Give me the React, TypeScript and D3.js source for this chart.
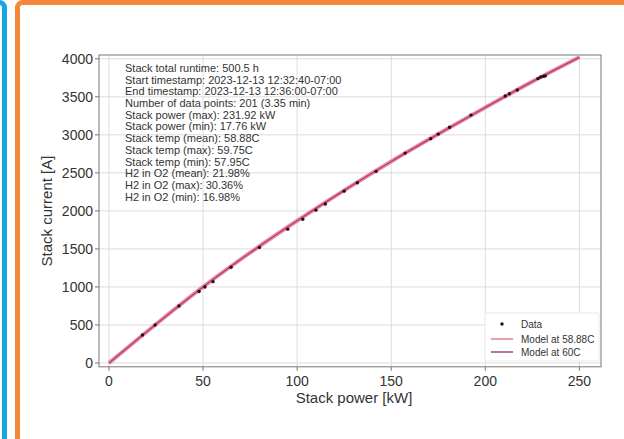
import React from "react";
import * as d3 from "d3";

const modelPower = [0, 25, 50, 75, 100, 125, 150, 175, 200, 225, 250];
const model5888 = [0, 510, 1000, 1450, 1870, 2270, 2650, 3010, 3360, 3700, 4020];
const model60 = [0, 510, 1000, 1450, 1870, 2270, 2650, 3010, 3360, 3700, 4020];

const dataPower = [17.8, 24.5, 37.2, 47.9, 51, 55.3, 64.9, 80, 95, 103, 110, 115, 125, 132, 142, 157.4, 171, 175, 181, 192.4, 210.6, 212.8, 217, 228, 229.5, 231, 231.9];
const dataCurrent = [368, 500, 750, 940, 1000, 1070, 1260, 1520, 1760, 1890, 2010, 2090, 2260, 2370, 2520, 2760, 2950, 3010, 3100, 3260, 3510, 3540, 3590, 3740, 3760, 3770, 3775];

const xTicks = [0, 50, 100, 150, 200, 250];
const yTicks = [0, 500, 1000, 1500, 2000, 2500, 3000, 3500, 4000];

const infoLines = [
  "Stack total runtime: 500.5 h",
  "Start timestamp: 2023-12-13 12:32:40-07:00",
  "End timestamp: 2023-12-13 12:36:00-07:00",
  "Number of data points: 201 (3.35 min)",
  "Stack power (max): 231.92 kW",
  "Stack power (min): 17.76 kW",
  "Stack temp (mean): 58.88C",
  "Stack temp (max): 59.75C",
  "Stack temp (min): 57.95C",
  "H2 in O2 (mean): 21.98%",
  "H2 in O2 (max): 30.36%",
  "H2 in O2 (min): 16.98%",
];

const FONT = "'Liberation Sans', Arial, Helvetica, sans-serif";

export default function App() {
  const left = 99, right = 601, top = 55, bottom = 366.8;
  const x = d3.scaleLinear().domain([-5.3, 261.5]).range([left, right]);
  const y = d3.scaleLinear().domain([-50, 4050]).range([bottom, top]);

  const line = d3
    .line<number>()
    .x((_, i) => x(modelPower[i]))
    .y((d) => y(d))
    .curve(d3.curveMonotoneX);

  const textColor = "#333";

  return (
    <svg
      width={624}
      height={439}
      style={{ position: "absolute", left: 0, top: 0, display: "block", background: "#fff" }}
      fontFamily={FONT}
    >
      {/* frames */}
      <rect x={-20} y={2.5} width={24.5} height={460} rx={5} fill="none" stroke="#16a4e4" strokeWidth={5} />
      <rect x={17.5} y={2.5} width={620} height={460} rx={5} fill="none" stroke="#f5873a" strokeWidth={5} />

      {/* grid */}
      {xTicks.map((t) => (
        <line key={"gx" + t} x1={x(t)} x2={x(t)} y1={top} y2={bottom} stroke="#dcdcdc" strokeWidth={1} />
      ))}
      {yTicks.map((t) => (
        <line key={"gy" + t} x1={left} x2={right} y1={y(t)} y2={y(t)} stroke="#dcdcdc" strokeWidth={1} />
      ))}

      {/* model lines */}
      <path d={line(model5888) || ""} fill="none" stroke="#e07d97" strokeWidth={4} strokeOpacity={0.85} />
      <path d={line(model60) || ""} fill="none" stroke="#b8325e" strokeWidth={1.3} strokeOpacity={0.9} />

      {/* data */}
      {dataPower.map((p, i) => (
        <circle key={"d" + i} cx={x(p)} cy={y(dataCurrent[i])} r={1.7} fill="#2a0a14" />
      ))}

      {/* axes frame */}
      <rect x={left} y={top} width={right - left} height={bottom - top} fill="none" stroke="#777" strokeWidth={1} />

      {/* ticks */}
      {xTicks.map((t) => (
        <g key={"tx" + t}>
          <line x1={x(t)} x2={x(t)} y1={bottom} y2={bottom + 4} stroke="#777" />
          <text x={x(t)} y={bottom + 19} fontSize={14} textAnchor="middle" fill={textColor}>
            {t}
          </text>
        </g>
      ))}
      {yTicks.map((t) => (
        <g key={"ty" + t}>
          <line x1={left - 4} x2={left} y1={y(t)} y2={y(t)} stroke="#777" />
          <text x={left - 6} y={y(t) + 5} fontSize={14} textAnchor="end" fill={textColor}>
            {t}
          </text>
        </g>
      ))}

      {/* axis labels */}
      <text x={354} y={403} fontSize={15} textAnchor="middle" fill={textColor}>
        Stack power [kW]
      </text>
      <text
        transform={`translate(52,211) rotate(-90)`}
        fontSize={15}
        textAnchor="middle"
        fill={textColor}
      >
        Stack current [A]
      </text>

      {/* info text */}
      {infoLines.map((s, i) => (
        <text key={"info" + i} x={125} y={68 + i * 11.7 + 3.9} fontSize={11} fill={textColor}>
          {s}
        </text>
      ))}

      {/* legend */}
      <rect x={485} y={313} width={114} height={48} rx={2} fill="#fff" stroke="#e6e6e6" strokeWidth={0.8} />
      <circle cx={502} cy={324} r={1.7} fill="#2a0a14" />
      <text x={521} y={327.5} fontSize={10} fill={textColor}>Data</text>
      <line x1={491} x2={513} y1={339} y2={339} stroke="#e07d97" strokeWidth={1.5} />
      <text x={521} y={342.5} fontSize={10} fill={textColor}>Model at 58.88C</text>
      <line x1={491} x2={513} y1={352} y2={352} stroke="#9a4a8a" strokeWidth={1.5} />
      <text x={521} y={355.5} fontSize={10} fill={textColor}>Model at 60C</text>
    </svg>
  );
}
